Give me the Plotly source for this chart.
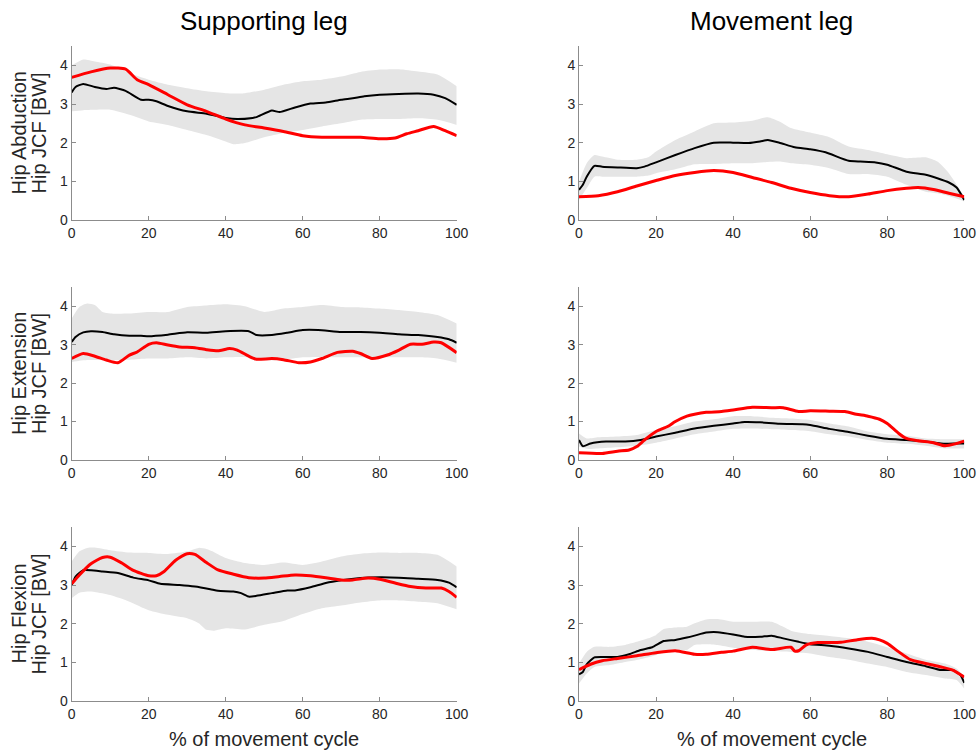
import plotly.graph_objects as go

# ---- Supporting leg, Hip Abduction ----
sa_red_x = [0, 5, 10, 14, 17, 20, 25, 30, 35, 40, 45, 50, 55, 60, 65, 70, 75, 80, 84, 87, 90, 94, 97, 100]
sa_red_y = [3.69, 3.83, 3.93, 3.90, 3.63, 3.50, 3.24, 2.98, 2.81, 2.61, 2.46, 2.38, 2.29, 2.18, 2.14, 2.14, 2.14, 2.10, 2.12, 2.23, 2.31, 2.42, 2.31, 2.18]
sa_blk_x = [0, 1, 3, 6, 9, 11, 14, 18, 20, 22, 25, 30, 35, 40, 43, 47, 48, 52, 54, 58, 62, 66, 70, 73, 76, 80, 85, 90, 94, 97, 100]
sa_blk_y = [3.30, 3.44, 3.52, 3.44, 3.39, 3.42, 3.34, 3.11, 3.11, 3.07, 2.95, 2.81, 2.75, 2.64, 2.61, 2.64, 2.66, 2.83, 2.79, 2.91, 3.01, 3.04, 3.11, 3.15, 3.20, 3.24, 3.26, 3.27, 3.24, 3.15, 2.98]
sa_band_x = [0, 3, 6, 10, 15, 20, 25, 30, 35, 40, 42, 45, 50, 55, 60, 65, 70, 75, 80, 85, 90, 95, 100]
sa_band_hi = [4.00, 4.15, 4.10, 4.02, 3.80, 3.63, 3.50, 3.41, 3.33, 3.28, 3.27, 3.28, 3.37, 3.50, 3.59, 3.63, 3.71, 3.83, 3.89, 3.90, 3.84, 3.76, 3.46]
sa_band_lo = [2.81, 2.84, 2.85, 2.85, 2.72, 2.55, 2.46, 2.33, 2.20, 2.03, 1.96, 1.99, 2.14, 2.25, 2.33, 2.42, 2.50, 2.59, 2.61, 2.61, 2.63, 2.59, 2.46]

# ---- Movement leg, Hip Abduction ----
ma_red_x = [0, 5, 10, 15, 20, 25, 30, 35, 40, 45, 50, 55, 60, 65, 70, 75, 80, 85, 88, 92, 96, 100]
ma_red_y = [0.60, 0.63, 0.73, 0.88, 1.02, 1.15, 1.23, 1.28, 1.23, 1.10, 0.97, 0.82, 0.71, 0.63, 0.60, 0.67, 0.76, 0.82, 0.84, 0.79, 0.69, 0.60]
ma_blk_x = [0, 1, 2, 4, 6, 10, 15, 17, 20, 25, 30, 35, 40, 44, 47, 49, 52, 56, 60, 64, 70, 73, 77, 80, 85, 90, 93, 96, 98, 100]
ma_blk_y = [0.78, 0.91, 1.12, 1.40, 1.38, 1.36, 1.34, 1.38, 1.49, 1.68, 1.86, 2.00, 2.00, 1.99, 2.03, 2.07, 2.00, 1.88, 1.83, 1.75, 1.53, 1.51, 1.49, 1.43, 1.25, 1.17, 1.08, 0.97, 0.84, 0.52]
ma_band_x = [0, 2, 4, 6, 10, 15, 18, 20, 25, 30, 35, 40, 45, 49, 52, 55, 60, 65, 70, 75, 80, 85, 90, 93, 96, 100]
ma_band_hi = [0.99, 1.47, 1.68, 1.64, 1.56, 1.56, 1.62, 1.77, 2.07, 2.29, 2.50, 2.52, 2.57, 2.66, 2.55, 2.38, 2.26, 2.14, 1.90, 1.81, 1.70, 1.60, 1.62, 1.51, 1.21, 0.60]
ma_band_lo = [0.52, 0.82, 1.12, 1.12, 1.12, 1.12, 1.15, 1.21, 1.31, 1.44, 1.45, 1.47, 1.47, 1.50, 1.51, 1.47, 1.43, 1.34, 1.19, 1.19, 1.12, 0.91, 0.73, 0.69, 0.62, 0.48]

# ---- Supporting leg, Hip Extension ----
se_red_x = [0, 3, 6, 9, 12, 15, 17, 20, 22, 25, 28, 32, 35, 38, 41, 43, 46, 48, 52, 55, 59, 62, 65, 69, 73, 75, 78, 82, 85, 88, 91, 94, 96, 100]
se_red_y = [2.64, 2.77, 2.70, 2.60, 2.53, 2.73, 2.81, 3.01, 3.05, 2.99, 2.94, 2.92, 2.87, 2.84, 2.90, 2.86, 2.70, 2.62, 2.64, 2.61, 2.53, 2.55, 2.64, 2.80, 2.83, 2.77, 2.64, 2.73, 2.86, 3.01, 3.01, 3.07, 3.05, 2.79]
se_blk_x = [0, 1, 3, 5, 8, 11, 15, 18, 20, 25, 30, 35, 40, 46, 48, 52, 56, 60, 64, 70, 75, 80, 85, 90, 95, 98, 100]
se_blk_y = [3.07, 3.20, 3.32, 3.35, 3.33, 3.27, 3.23, 3.23, 3.22, 3.26, 3.32, 3.31, 3.35, 3.35, 3.25, 3.25, 3.31, 3.38, 3.38, 3.33, 3.33, 3.31, 3.27, 3.25, 3.20, 3.14, 3.05]
se_band_x = [0, 2, 4, 6, 8, 10, 15, 20, 25, 30, 35, 40, 45, 50, 55, 60, 65, 70, 75, 80, 85, 90, 95, 100]
se_band_hi = [3.68, 3.98, 4.07, 4.03, 3.85, 3.81, 3.81, 3.85, 3.85, 3.98, 4.02, 4.05, 4.00, 3.85, 3.94, 3.98, 4.03, 3.98, 3.97, 3.94, 3.90, 3.85, 3.77, 3.55]
se_band_lo = [2.55, 2.58, 2.60, 2.60, 2.60, 2.60, 2.61, 2.64, 2.64, 2.67, 2.64, 2.67, 2.68, 2.60, 2.61, 2.67, 2.68, 2.67, 2.67, 2.67, 2.67, 2.67, 2.64, 2.53]

# ---- Movement leg, Hip Extension ----
me_red_x = [0, 6, 10, 13, 15, 17, 20, 23, 25, 28, 30, 33, 37, 40, 45, 50, 53, 57, 60, 65, 69, 72, 75, 78, 80, 83, 85, 88, 92, 95, 98, 100]
me_red_y = [0.19, 0.17, 0.23, 0.26, 0.35, 0.52, 0.74, 0.87, 1.00, 1.14, 1.19, 1.24, 1.26, 1.30, 1.37, 1.36, 1.36, 1.26, 1.28, 1.27, 1.26, 1.19, 1.14, 1.06, 0.95, 0.69, 0.56, 0.50, 0.45, 0.37, 0.43, 0.49]
me_blk_x = [0, 1, 3, 7, 12, 16, 20, 25, 30, 35, 40, 43, 47, 52, 58, 60, 65, 70, 75, 80, 85, 90, 95, 98, 100]
me_blk_y = [0.52, 0.36, 0.43, 0.48, 0.48, 0.52, 0.61, 0.71, 0.82, 0.89, 0.95, 0.99, 0.98, 0.94, 0.93, 0.91, 0.81, 0.73, 0.63, 0.55, 0.52, 0.48, 0.42, 0.43, 0.43]
me_band_x = [0, 2, 5, 10, 15, 20, 25, 30, 35, 40, 45, 50, 55, 60, 65, 70, 75, 80, 85, 90, 95, 100]
me_band_hi = [0.69, 0.56, 0.59, 0.61, 0.65, 0.78, 0.88, 1.00, 1.06, 1.14, 1.14, 1.10, 1.08, 1.04, 0.95, 0.87, 0.74, 0.67, 0.63, 0.56, 0.54, 0.54]
me_band_lo = [0.35, 0.29, 0.30, 0.33, 0.37, 0.45, 0.56, 0.67, 0.74, 0.81, 0.82, 0.80, 0.78, 0.75, 0.67, 0.61, 0.52, 0.45, 0.42, 0.37, 0.30, 0.30]

# ---- Supporting leg, Hip Flexion ----
sf_red_x = [0, 2, 5, 8, 10, 13, 16, 20, 22, 24, 27, 30, 32, 35, 38, 42, 46, 50, 54, 58, 62, 66, 70, 73, 77, 80, 84, 88, 92, 96, 98, 100]
sf_red_y = [3.03, 3.26, 3.55, 3.71, 3.72, 3.57, 3.38, 3.24, 3.24, 3.35, 3.64, 3.81, 3.79, 3.58, 3.39, 3.28, 3.19, 3.18, 3.22, 3.26, 3.24, 3.19, 3.13, 3.13, 3.18, 3.15, 3.05, 2.96, 2.92, 2.92, 2.83, 2.68]
sf_blk_x = [0, 1, 3, 5, 8, 12, 16, 20, 23, 28, 32, 36, 38, 42, 44, 46, 48, 52, 56, 58, 62, 66, 70, 75, 80, 85, 90, 95, 98, 100]
sf_blk_y = [3.00, 3.22, 3.38, 3.38, 3.35, 3.31, 3.19, 3.12, 3.03, 3.00, 2.96, 2.89, 2.85, 2.83, 2.79, 2.70, 2.72, 2.79, 2.86, 2.86, 2.94, 3.05, 3.12, 3.18, 3.20, 3.19, 3.16, 3.13, 3.06, 2.94]
sf_band_x = [0, 2, 4, 6, 10, 15, 20, 25, 30, 33, 35, 37, 40, 45, 50, 55, 60, 65, 70, 75, 80, 85, 90, 95, 100]
sf_band_hi = [3.61, 3.87, 3.96, 3.97, 3.90, 3.84, 3.83, 3.80, 3.87, 3.96, 3.93, 3.85, 3.70, 3.57, 3.52, 3.58, 3.52, 3.61, 3.74, 3.81, 3.84, 3.83, 3.83, 3.78, 3.48]
sf_band_lo = [2.66, 2.80, 2.83, 2.82, 2.74, 2.57, 2.35, 2.23, 2.14, 2.01, 1.84, 1.82, 1.88, 1.85, 1.97, 2.07, 2.25, 2.40, 2.47, 2.55, 2.60, 2.60, 2.57, 2.53, 2.37]

# ---- Movement leg, Hip Flexion ----
mf_red_x = [0, 3, 6, 10, 15, 20, 25, 30, 33, 37, 40, 45, 50, 55, 56, 57, 59, 62, 65, 68, 72, 76, 78, 80, 83, 86, 90, 94, 97, 100]
mf_red_y = [0.81, 0.95, 1.04, 1.10, 1.17, 1.25, 1.30, 1.21, 1.21, 1.26, 1.29, 1.39, 1.33, 1.39, 1.29, 1.30, 1.45, 1.51, 1.51, 1.52, 1.58, 1.62, 1.58, 1.49, 1.27, 1.07, 0.97, 0.88, 0.80, 0.62]
mf_blk_x = [0, 1, 2, 4, 6, 10, 13, 16, 19, 22, 25, 28, 30, 33, 36, 40, 43, 47, 50, 53, 57, 60, 65, 70, 75, 80, 85, 90, 94, 97, 99, 100]
mf_blk_y = [0.69, 0.75, 0.95, 1.13, 1.14, 1.14, 1.21, 1.32, 1.39, 1.55, 1.58, 1.64, 1.69, 1.77, 1.78, 1.72, 1.66, 1.66, 1.69, 1.62, 1.53, 1.47, 1.43, 1.36, 1.27, 1.14, 1.01, 0.90, 0.80, 0.80, 0.67, 0.47]
mf_band_x = [0, 2, 4, 8, 12, 15, 18, 20, 22, 25, 28, 30, 33, 36, 40, 45, 50, 53, 55, 60, 65, 70, 75, 80, 85, 90, 95, 98, 100]
mf_band_hi = [0.97, 1.27, 1.40, 1.40, 1.45, 1.53, 1.62, 1.71, 1.86, 1.90, 1.92, 2.01, 2.11, 2.12, 2.05, 2.05, 2.05, 1.92, 1.82, 1.73, 1.68, 1.62, 1.53, 1.39, 1.23, 1.07, 0.97, 0.84, 0.62]
mf_band_lo = [0.45, 0.71, 0.88, 0.93, 1.01, 1.06, 1.13, 1.19, 1.27, 1.32, 1.32, 1.45, 1.47, 1.45, 1.38, 1.32, 1.30, 1.28, 1.27, 1.23, 1.14, 1.07, 0.97, 0.88, 0.75, 0.67, 0.58, 0.54, 0.32]

col_titles = ["Supporting leg", "Movement leg"]
row_names = ["Hip Abduction", "Hip Extension", "Hip Flexion"]
y_unit = "Hip JCF [BW]"
x_title = "% of movement cycle"
x_ticks = [0, 20, 40, 60, 80, 100]
y_ticks = [0, 1, 2, 3, 4]

panels = [
    # (row, col, band_x, hi, lo, blk_x, blk_y, red_x, red_y)
    (0, 0, sa_band_x, sa_band_hi, sa_band_lo, sa_blk_x, sa_blk_y, sa_red_x, sa_red_y),
    (0, 1, ma_band_x, ma_band_hi, ma_band_lo, ma_blk_x, ma_blk_y, ma_red_x, ma_red_y),
    (1, 0, se_band_x, se_band_hi, se_band_lo, se_blk_x, se_blk_y, se_red_x, se_red_y),
    (1, 1, me_band_x, me_band_hi, me_band_lo, me_blk_x, me_blk_y, me_red_x, me_red_y),
    (2, 0, sf_band_x, sf_band_hi, sf_band_lo, sf_blk_x, sf_blk_y, sf_red_x, sf_red_y),
    (2, 1, mf_band_x, mf_band_hi, mf_band_lo, mf_blk_x, mf_blk_y, mf_red_x, mf_red_y),
]

W, H = 979, 754
col_px = [(71.7, 456.7), (579.0, 964.3)]
row_px = [(46.0, 220.0), (287.0, 460.0), (527.0, 701.0)]

FONT = "Liberation Sans, Arial, sans-serif"
AXIS_GRAY = "#8c8c8c"
TEXT_GRAY = "#262626"

fig = go.Figure()
layout = {}
for i, (r, c, bx, bhi, blo, kx, ky, rx, ry) in enumerate(panels):
    n = i + 1
    xa = "x" if n == 1 else f"x{n}"
    ya = "y" if n == 1 else f"y{n}"
    fig.add_trace(go.Scatter(x=bx, y=blo, xaxis=xa, yaxis=ya, mode="lines",
                             line=dict(width=0, shape="spline", smoothing=0.6),
                             hoverinfo="skip", showlegend=False))
    fig.add_trace(go.Scatter(x=bx, y=bhi, xaxis=xa, yaxis=ya, mode="lines",
                             line=dict(width=0, shape="spline", smoothing=0.6),
                             fill="tonexty", fillcolor="#e5e5e5",
                             hoverinfo="skip", showlegend=False))
    fig.add_trace(go.Scatter(x=kx, y=ky, xaxis=xa, yaxis=ya, mode="lines",
                             line=dict(color="black", width=2, shape="spline", smoothing=0.5),
                             showlegend=False))
    fig.add_trace(go.Scatter(x=rx, y=ry, xaxis=xa, yaxis=ya, mode="lines",
                             line=dict(color="#ff0000", width=3, shape="spline", smoothing=0.6),
                             showlegend=False))
    x0, x1 = col_px[c]
    y0, y1 = row_px[r]
    common = dict(showline=True, linecolor=AXIS_GRAY, linewidth=1, showgrid=False,
                  zeroline=False, ticks="inside", ticklen=4, tickcolor=AXIS_GRAY,
                  tickfont=dict(family=FONT, size=14, color=TEXT_GRAY), mirror=False,
                  automargin=False, fixedrange=True)
    layout["xaxis" if n == 1 else f"xaxis{n}"] = dict(
        domain=[x0 / W, x1 / W], range=[0, 100], tickvals=x_ticks,
        anchor=ya, **common)
    layout["yaxis" if n == 1 else f"yaxis{n}"] = dict(
        domain=[1 - y1 / H, 1 - y0 / H], range=[0, 4.5], tickvals=y_ticks,
        anchor=xa, **common)

annotations = []
for c, t in enumerate(col_titles):
    cx = (col_px[c][0] + col_px[c][1]) / 2 / W
    annotations.append(dict(text=t, x=cx, y=1 - 21 / H, xref="paper", yref="paper",
                            xanchor="center", yanchor="middle", showarrow=False,
                            font=dict(family=FONT, size=26, color="black")))
    annotations.append(dict(text=x_title, x=cx, y=1 - 739 / H, xref="paper", yref="paper",
                            xanchor="center", yanchor="middle", showarrow=False,
                            font=dict(family=FONT, size=20, color=TEXT_GRAY)))
for r, t in enumerate(row_names):
    cy = 1 - (row_px[r][0] + row_px[r][1]) / 2 / H
    for xpx, line in ((18.5, t), (38.5, y_unit)):
        annotations.append(dict(text=line, x=xpx / W, y=cy, xref="paper", yref="paper",
                                xanchor="center", yanchor="middle", showarrow=False,
                                textangle=-90,
                                font=dict(family=FONT, size=20, color=TEXT_GRAY)))

fig.update_layout(width=W, height=H, margin=dict(l=0, r=0, t=0, b=0, autoexpand=False),
                  paper_bgcolor="white", plot_bgcolor="white",
                  annotations=annotations, **layout)

fig.write_html("out.html")
